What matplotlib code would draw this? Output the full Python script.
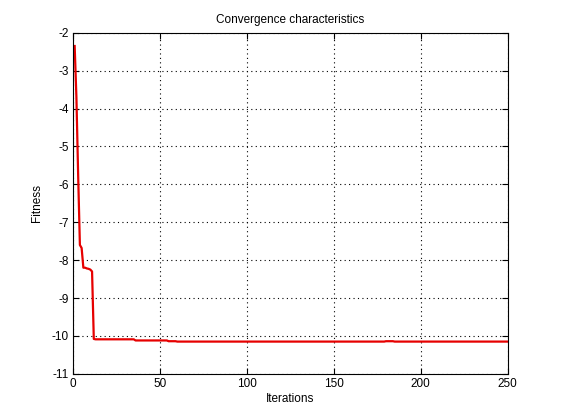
import matplotlib
matplotlib.use('Agg')
import matplotlib.pyplot as plt
import numpy as np

# early iterations
early_iters = [1, 2, 3, 4, 5, 6, 7, 8, 9, 10, 11, 12]
early_fit = [-2.35, -3.7, -5.75, -7.6, -7.68, -8.2, -8.2, -8.22, -8.23, -8.25, -8.3, -10.08]

# later plateaus: (first iteration, fitness)
plateau_start = [13, 36, 55, 60, 100, 180, 185, 250]
plateau_fit = [-10.09, -10.12, -10.14, -10.15, -10.15, -10.14, -10.15, -10.15]

iters = list(early_iters)
fit = list(early_fit)
for k in range(len(plateau_start) - 1):
    n = plateau_start[k + 1] - plateau_start[k]
    iters += list(range(plateau_start[k], plateau_start[k + 1]))
    fit += [plateau_fit[k]] * n
iters.append(250)
fit.append(plateau_fit[-1])

plt.rcParams['font.family'] = ['Liberation Sans', 'DejaVu Sans']
plt.rcParams['font.size'] = 8.5
plt.rcParams['axes.unicode_minus'] = False

fig = plt.figure(figsize=(5.61, 4.2), dpi=100)
ax = fig.add_axes([0.13, 0.11, 0.775, 0.812])
ax.plot(iters, fit, color='#e60000', linewidth=1.6)

ax.set_xlim(0, 250)
ax.set_ylim(-11, -2)
ax.set_xticks(np.arange(0, 251, 50))
ax.set_yticks(np.arange(-11, -1, 1))
ax.grid(True, color='black', linestyle=(0, (1, 3)), linewidth=0.8)
ax.tick_params(direction='in', top=True, right=True, length=4, width=0.8, pad=3)
for s in ax.spines.values():
    s.set_linewidth(0.8)

ax.set_title('Convergence characteristics', fontsize=8.5, pad=7)
ax.set_xlabel('Iterations', labelpad=2)
ax.set_ylabel('Fitness', labelpad=6)

fig.savefig('out.png', dpi=100)
